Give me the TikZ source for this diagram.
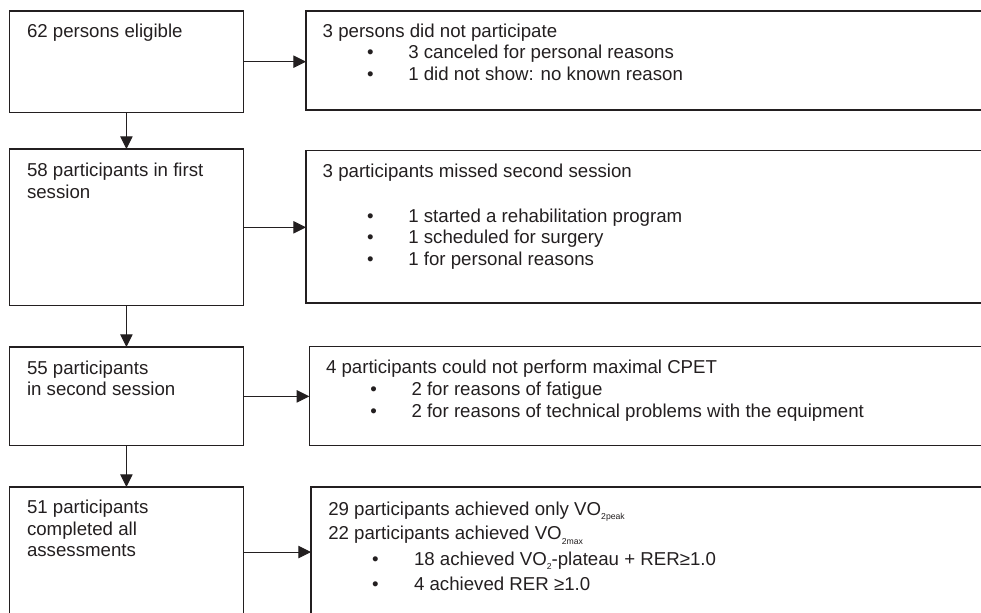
\documentclass[tikz,border=0pt]{standalone}
\usepackage{fontspec}
\setmainfont{Liberation Sans}
\usetikzlibrary{arrows.meta}
\definecolor{ink}{HTML}{231F20}
% small lowered index, as in VO2peak
\newcommand{\lowidx}[1]{\raisebox{-3.6pt}{\fontsize{6.5}{7}\selectfont #1}}

\begin{document}
\begin{tikzpicture}[x=0.75pt,y=-0.75pt,
  box/.style={draw=ink, line width=1.1pt, inner sep=0pt, outer sep=0pt},
  lbox/.style={box, minimum width=175.35pt},
  txt/.style={anchor=base west, inner sep=0pt, outer sep=0pt, text=ink,
              font=\fontsize{14}{16}\selectfont},
  flow/.style={draw=ink, line width=0.75pt,
               -{Triangle[length=9.5pt,width=9.3pt]}}]
\useasboundingbox (0,0) rectangle (981,612);
\clip (0,0) rectangle (981,612);

% ---- left column: main stages
\node[lbox, minimum height=75.98pt]  (L1) at (126.4,61.65) {};
\node[lbox, minimum height=117.53pt] (L2) at (126.4,227.35) {};
\node[lbox, minimum height=74.03pt]  (L3) at (126.4,396.35) {};
\node[lbox, minimum height=97.5pt]   (L4) at (126.4,552) {};

% ---- right column: exclusions and outcomes
\node[box, minimum width=513pt,    minimum height=74.25pt]  (R1) at (648,60.5) {};
\node[box, minimum width=513pt,    minimum height=114.23pt] (R2) at (648,226.85) {};
\node[box, minimum width=510.53pt, minimum height=74.25pt]  (R3) at (649.65,396.2) {};
\node[box, minimum width=509.25pt, minimum height=99.75pt]  (R4) at (650.5,553.5) {};

% ---- texts of the left column
\node[txt] (l1a) at (27,37.3) {62 persons eligible};
\node[txt] (l2a) at (27,176) {58 participants in first};
\node[txt] (l2b) at (27,198) {session};
\node[txt] (l3a) at (27,374) {55 participants};
\node[txt] (l3b) at (27,395.5) {in second session};
\node[txt] (l4a) at (27,513.3) {51 participants};
\node[txt] (l4b) at (27,535) {completed all};
\node[txt] (l4c) at (27,556.5) {assessments};

% ---- texts of the right column
\node[txt] (r1a) at (322.7,37) {3 persons did not participate};
\node[txt] (r1p) at (367,58.5) {•};
\node[txt] (r1b) at (408.3,58.5) {3 canceled for personal reasons};
\node[txt] (r1q) at (367,80) {•};
\node[txt] (r1c) at (408.3,80) {1 did not show: no known reason};

\node[txt] (r2a) at (322.7,177) {3 participants missed second session};
\node[txt] (r2p) at (367,222) {•};
\node[txt] (r2b) at (408.3,222) {1 started a rehabilitation program};
\node[txt] (r2q) at (367,243.7) {•};
\node[txt] (r2c) at (408.3,243.7) {1 scheduled for surgery};
\node[txt] (r2r) at (367,265.4) {•};
\node[txt] (r2d) at (408.3,265.4) {1 for personal reasons};

\node[txt] (r3a) at (326,373) {4 participants could not perform maximal CPET};
\node[txt] (r3p) at (370.3,395) {•};
\node[txt] (r3b) at (411.5,395) {2 for reasons of fatigue};
\node[txt] (r3q) at (370.3,417) {•};
\node[txt] (r3c) at (411.5,417) {2 for reasons of technical problems with the equipment};

\node[txt] (r4a) at (328.3,515) {29 participants achieved only VO\lowidx{2peak}};
\node[txt] (r4b) at (328.3,539.5) {22 participants achieved VO\lowidx{2max}};
\node[txt] (r4p) at (372,565) {•};
\node[txt] (r4c) at (414,565) {18 achieved VO\lowidx{2}-plateau + RER≥1.0};
\node[txt] (r4q) at (372,590) {•};
\node[txt] (r4d) at (414,590) {4 achieved RER ≥1.0};

% ---- connectors
\draw[flow] (L1.south) -- (L2.north);
\draw[flow] (L2.south) -- (L3.north);
\draw[flow] (L3.south) -- (L4.north);
\draw[flow] (L1.east) -- (L1.east -| R1.west);
\draw[flow] (L2.east) -- (L2.east -| R2.west);
\draw[flow] (L3.east) -- (L3.east -| R3.west);
\draw[flow] (L4.east) -- (L4.east -| R4.west);
\end{tikzpicture}
\end{document}
